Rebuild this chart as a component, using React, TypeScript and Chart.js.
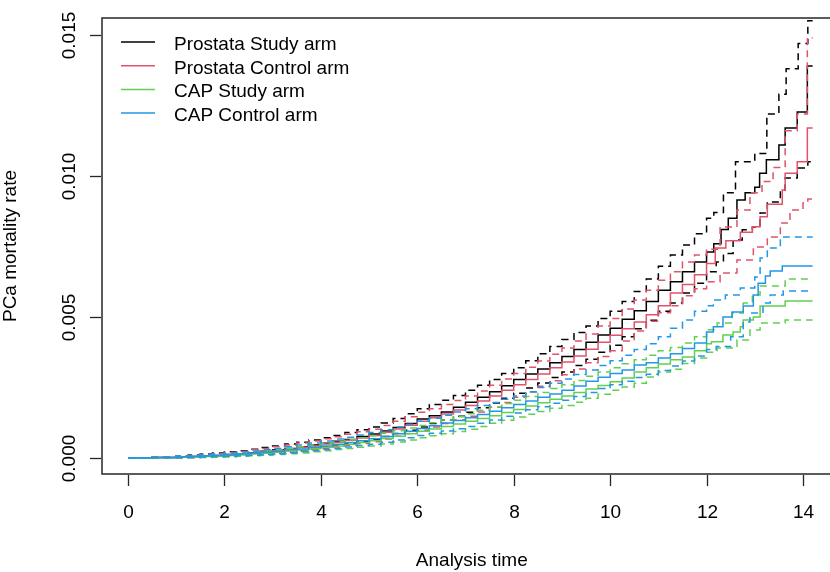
import React, { useEffect, useRef } from "react";
import { Chart, registerables } from "chart.js";

Chart.register(...registerables);

// ---------- axis ticks ----------
const xTicks = [0, 2, 4, 6, 8, 10, 12, 14];
const yTicks = [0, 0.005, 0.01, 0.015];
const yTickLabels = ["0.000", "0.005", "0.010", "0.015"];
const xTitle = "Analysis time";
const yTitle = "PCa mortality rate";

// ---------- legend ----------
const seriesNames = ["Prostata Study arm", "Prostata Control arm", "CAP Study arm", "CAP Control arm"];
const seriesColors = ["#000000", "#DF536B", "#61D04F", "#2297E6"];

// ---------- data (values in per mille, i.e. x 0.001) ----------
// common step times for t <= 12
const gridTimes = [0, 0.5, 1, 1.25, 1.5, 1.75, 2, 2.25, 2.5, 2.75, 3, 3.25, 3.5, 3.75, 4, 4.25, 4.5, 4.75, 5, 5.25, 5.5, 5.75, 6, 6.25, 6.5, 6.75, 7, 7.25, 7.5, 7.75, 8, 8.25, 8.5, 8.75, 9, 9.25, 9.5, 9.75, 10, 10.25, 10.5, 10.75, 11, 11.25, 11.5, 11.75, 12];

// Prostata Study arm
const psEst = [0, 0.02, 0.04, 0.05, 0.07, 0.09, 0.12, 0.15, 0.19, 0.24, 0.29, 0.34, 0.39, 0.46, 0.52, 0.59, 0.66, 0.76, 0.85, 0.96, 1.08, 1.22, 1.38, 1.5, 1.63, 1.8, 1.98, 2.15, 2.35, 2.56, 2.78, 2.98, 3.16, 3.38, 3.6, 3.85, 4.1, 4.36, 4.6, 4.92, 5.22, 5.55, 5.95, 6.25, 6.6, 6.95, 7.3];
const psEstLate = [[12.15, 7.6], [12.3, 8.1], [12.45, 8.5], [12.63, 9.15], [12.8, 9.4], [13.0, 9.6], [13.1, 10.1], [13.24, 10.57], [13.5, 11.1], [13.63, 11.7], [13.88, 12.27], [14.09, 13.9], [14.2, 13.9]];
const psHigh = [0, 0.04, 0.08, 0.11, 0.14, 0.18, 0.22, 0.26, 0.31, 0.37, 0.43, 0.5, 0.56, 0.64, 0.72, 0.8, 0.9, 1.0, 1.1, 1.24, 1.4, 1.57, 1.75, 1.9, 2.05, 2.22, 2.4, 2.58, 2.78, 3.0, 3.2, 3.45, 3.7, 3.95, 4.2, 4.45, 4.68, 4.95, 5.2, 5.55, 5.9, 6.35, 6.8, 7.2, 7.55, 7.95, 8.5];
const psHighLate = [[12.15, 8.7], [12.35, 9.4], [12.6, 10.5], [13.0, 10.8], [13.25, 12.2], [13.5, 12.9], [13.65, 13.8], [13.9, 14.7], [14.1, 15.5], [14.2, 15.5]];
const psLow = [0, 0, 0.01, 0.02, 0.03, 0.04, 0.06, 0.08, 0.1, 0.13, 0.16, 0.21, 0.26, 0.32, 0.38, 0.44, 0.51, 0.58, 0.66, 0.76, 0.87, 0.98, 1.1, 1.22, 1.35, 1.48, 1.62, 1.78, 1.95, 2.12, 2.3, 2.48, 2.66, 2.85, 3.05, 3.28, 3.5, 3.75, 4.0, 4.3, 4.58, 4.88, 5.2, 5.5, 5.85, 6.2, 6.6];
const psLowLate = [[12.2, 6.95], [12.35, 7.25], [12.55, 7.73], [12.74, 8.09], [12.95, 8.19], [13.11, 8.69], [13.26, 9.08], [13.53, 9.5], [13.63, 9.93], [13.88, 10.28], [14.1, 10.5], [14.2, 10.5]];

// Prostata Control arm
const pcEst = [0, 0.02, 0.04, 0.05, 0.07, 0.09, 0.12, 0.15, 0.18, 0.22, 0.27, 0.32, 0.37, 0.43, 0.5, 0.56, 0.63, 0.71, 0.8, 0.91, 1.03, 1.16, 1.3, 1.43, 1.56, 1.7, 1.86, 2.02, 2.2, 2.4, 2.6, 2.78, 2.98, 3.2, 3.4, 3.62, 3.86, 4.1, 4.35, 4.58, 4.82, 5.08, 5.4, 5.85, 6.15, 6.5, 6.9];
const pcEstLate = [[12.18, 7.45], [12.4, 7.7], [12.7, 8.0], [12.95, 8.2], [13.11, 8.55], [13.26, 9.0], [13.57, 9.5], [13.63, 10.1], [13.88, 10.5], [14.09, 11.7], [14.2, 11.7]];
const pcHigh = [0, 0.04, 0.08, 0.1, 0.13, 0.16, 0.2, 0.24, 0.29, 0.34, 0.4, 0.46, 0.53, 0.6, 0.68, 0.75, 0.84, 0.93, 1.02, 1.15, 1.3, 1.46, 1.62, 1.75, 1.9, 2.04, 2.2, 2.38, 2.58, 2.8, 3.0, 3.22, 3.44, 3.68, 3.9, 4.15, 4.4, 4.68, 4.95, 5.28, 5.6, 5.95, 6.3, 6.6, 6.95, 7.2, 7.4];
const pcHighLate = [[12.28, 8.19], [12.63, 8.79], [12.9, 9.4], [13.15, 9.8], [13.38, 10.3], [13.63, 11.6], [13.88, 12.2], [14.09, 14.9], [14.2, 14.9]];
const pcLow = [0, 0, 0.01, 0.02, 0.03, 0.04, 0.06, 0.08, 0.1, 0.12, 0.15, 0.19, 0.24, 0.29, 0.34, 0.39, 0.45, 0.51, 0.58, 0.67, 0.77, 0.87, 0.98, 1.1, 1.22, 1.35, 1.48, 1.63, 1.8, 1.97, 2.15, 2.34, 2.54, 2.74, 2.95, 3.16, 3.38, 3.6, 3.8, 4.15, 4.5, 4.85, 5.15, 5.4, 5.75, 6.0, 6.25];
const pcLowLate = [[12.28, 6.56], [12.63, 7.02], [12.97, 7.48], [13.26, 7.84], [13.53, 8.33], [13.73, 8.79], [14.0, 9.04], [14.1, 9.18], [14.2, 9.18]];

// CAP Study arm
const csEst = [0, 0.01, 0.03, 0.04, 0.05, 0.07, 0.09, 0.11, 0.14, 0.17, 0.2, 0.24, 0.28, 0.33, 0.38, 0.43, 0.49, 0.55, 0.61, 0.69, 0.77, 0.86, 0.95, 1.03, 1.12, 1.21, 1.3, 1.4, 1.5, 1.61, 1.72, 1.84, 1.96, 2.08, 2.2, 2.32, 2.45, 2.57, 2.7, 2.84, 3.05, 3.2, 3.33, 3.48, 3.58, 3.8, 4.05];
const csEstLate = [[12.1, 4.12], [12.34, 4.36], [12.55, 4.47], [12.7, 4.65], [12.76, 4.89], [12.97, 5.0], [13.11, 5.39], [13.63, 5.57], [14.2, 5.57]];
const csHigh = [0, 0.03, 0.06, 0.08, 0.1, 0.12, 0.15, 0.18, 0.22, 0.25, 0.29, 0.34, 0.4, 0.46, 0.52, 0.58, 0.65, 0.72, 0.79, 0.88, 0.97, 1.06, 1.15, 1.25, 1.35, 1.46, 1.57, 1.69, 1.81, 1.93, 2.05, 2.18, 2.32, 2.46, 2.6, 2.75, 2.9, 3.05, 3.2, 3.34, 3.48, 3.64, 3.8, 3.92, 4.08, 4.3, 4.55];
const csHighLate = [[12.22, 4.79], [12.53, 5.14], [12.76, 5.5], [12.95, 5.78], [13.11, 6.1], [13.63, 6.35], [14.2, 6.35]];
const csLow = [0, 0, 0.01, 0.01, 0.02, 0.03, 0.04, 0.06, 0.08, 0.1, 0.12, 0.15, 0.18, 0.22, 0.26, 0.3, 0.34, 0.38, 0.43, 0.5, 0.57, 0.64, 0.72, 0.79, 0.86, 0.94, 1.02, 1.12, 1.23, 1.34, 1.45, 1.55, 1.65, 1.76, 1.86, 1.98, 2.12, 2.26, 2.4, 2.52, 2.65, 2.87, 3.05, 3.15, 3.35, 3.55, 3.75];
const csLowLate = [[12.22, 3.9], [12.63, 4.18], [12.9, 4.54], [13.11, 4.79], [13.63, 4.89], [14.2, 4.89]];

// CAP Control arm
const ccEst = [0, 0.02, 0.04, 0.05, 0.07, 0.09, 0.11, 0.14, 0.17, 0.2, 0.23, 0.28, 0.32, 0.38, 0.43, 0.49, 0.55, 0.61, 0.68, 0.76, 0.86, 0.95, 1.05, 1.14, 1.24, 1.33, 1.43, 1.54, 1.66, 1.78, 1.9, 2.02, 2.15, 2.27, 2.4, 2.55, 2.72, 2.86, 3.0, 3.12, 3.3, 3.38, 3.55, 3.7, 3.88, 4.08, 4.47];
const ccEstLate = [[12.14, 4.65], [12.34, 5.0], [12.53, 5.18], [12.76, 5.39], [12.97, 5.78], [13.07, 6.2], [13.22, 6.45], [13.32, 6.63], [13.57, 6.81], [14.2, 6.81]];
const ccHigh = [0, 0.03, 0.07, 0.09, 0.12, 0.14, 0.17, 0.21, 0.25, 0.29, 0.34, 0.4, 0.46, 0.53, 0.6, 0.67, 0.74, 0.82, 0.9, 1.0, 1.1, 1.2, 1.3, 1.41, 1.52, 1.63, 1.75, 1.86, 1.97, 2.08, 2.2, 2.35, 2.5, 2.65, 2.8, 2.96, 3.12, 3.28, 3.45, 3.64, 3.85, 4.05, 4.3, 4.6, 4.89, 5.2, 5.4];
const ccHighLate = [[12.14, 5.6], [12.39, 5.78], [12.7, 6.03], [13.0, 6.42], [13.11, 7.09], [13.26, 7.45], [13.53, 7.73], [13.57, 7.84], [14.2, 7.84]];
const ccLow = [0, 0.01, 0.02, 0.03, 0.04, 0.05, 0.06, 0.08, 0.1, 0.12, 0.14, 0.18, 0.22, 0.26, 0.3, 0.34, 0.39, 0.44, 0.49, 0.56, 0.64, 0.72, 0.8, 0.88, 0.96, 1.04, 1.12, 1.23, 1.35, 1.48, 1.6, 1.71, 1.82, 1.94, 2.05, 2.18, 2.32, 2.46, 2.6, 2.72, 2.85, 2.97, 3.1, 3.26, 3.44, 3.62, 3.85];
const ccLowLate = [[12.2, 3.95], [12.5, 4.3], [12.76, 4.82], [12.9, 5.14], [13.17, 5.5], [13.32, 5.78], [13.59, 5.92], [14.2, 5.92]];

const PER_MILLE = 0.001;

const groups = [
  { est: [psEst, psEstLate], low: [psLow, psLowLate], high: [psHigh, psHighLate] },
  { est: [pcEst, pcEstLate], low: [pcLow, pcLowLate], high: [pcHigh, pcHighLate] },
  { est: [csEst, csEstLate], low: [csLow, csLowLate], high: [csHigh, csHighLate] },
  { est: [ccEst, ccEstLate], low: [ccLow, ccLowLate], high: [ccHigh, ccHighLate] },
];

const FONT = '"Liberation Sans", Arial, sans-serif';

const rAxesPlugin = {
  id: "rAxes",
  afterDraw(chart: any) {
    const ctx = chart.ctx as CanvasRenderingContext2D;
    const area = chart.chartArea;
    const xs = chart.scales.x;
    const ys = chart.scales.y;
    ctx.save();
    ctx.strokeStyle = "#262626";
    ctx.lineWidth = 1.5;
    ctx.beginPath();
    ctx.moveTo(area.right + 20, area.top);
    ctx.lineTo(area.left, area.top);
    ctx.lineTo(area.left, area.bottom);
    ctx.lineTo(area.right + 20, area.bottom);
    ctx.stroke();

    ctx.fillStyle = "#000";
    ctx.font = `19px ${FONT}`;
    ctx.lineWidth = 1.3;
    ctx.textAlign = "center";
    ctx.textBaseline = "alphabetic";
    xTicks.forEach((t) => {
      const px = Math.round(xs.getPixelForValue(t)) + 0.5;
      ctx.beginPath();
      ctx.moveTo(px, area.bottom + 1);
      ctx.lineTo(px, area.bottom + 12);
      ctx.stroke();
      ctx.fillText(String(t), px, 518);
    });
    yTicks.forEach((v, i) => {
      const py = Math.round(ys.getPixelForValue(v)) + 0.5;
      ctx.beginPath();
      ctx.moveTo(area.left - 1, py);
      ctx.lineTo(area.left - 12, py);
      ctx.stroke();
      ctx.save();
      ctx.translate(75, py);
      ctx.rotate(-Math.PI / 2);
      ctx.fillText(yTickLabels[i], 0, 0);
      ctx.restore();
    });
    ctx.fillText(xTitle, (xs.getPixelForValue(xs.min) + xs.getPixelForValue(14.8)) / 2, 566);
    ctx.save();
    ctx.translate(16, (area.top + area.bottom) / 2);
    ctx.rotate(-Math.PI / 2);
    ctx.fillText(yTitle, 0, 0);
    ctx.restore();

    ctx.textAlign = "left";
    seriesNames.forEach((name, i) => {
      const ly = 42 + i * 23.7;
      ctx.strokeStyle = seriesColors[i];
      ctx.lineWidth = 1.5;
      ctx.beginPath();
      ctx.moveTo(121, ly);
      ctx.lineTo(155, ly);
      ctx.stroke();
      ctx.fillStyle = "#000";
      ctx.fillText(name, 174, ly + 8);
    });
    ctx.restore();
  },
};

export default function App() {
  const canvasRef = useRef<HTMLCanvasElement | null>(null);

  useEffect(() => {
    if (!canvasRef.current) return;
    const toPoints = ([vals, late]: any[]) => [
      ...gridTimes.map((t, i) => ({ x: t, y: vals[i] * PER_MILLE })),
      ...late.map(([t, v]: number[]) => ({ x: t, y: v * PER_MILLE })),
    ];
    const datasets: any[] = [];
    groups.forEach((g, gi) => {
      const color = seriesColors[gi];
      const mk = (src: any[], dashed: boolean, k: number) => ({
        label: seriesNames[gi] + (dashed ? " CI" : ""),
        data: toPoints(src),
        borderColor: color,
        borderWidth: 1.5,
        borderDash: dashed ? [7, 5] : [],
        stepped: "before",
        pointRadius: 0,
        fill: false,
        order: 100 - (gi * 3 + k),
      });
      datasets.push(mk(g.est, false, 0));
      datasets.push(mk(g.low, true, 1));
      datasets.push(mk(g.high, true, 2));
    });

    const chart = new Chart(canvasRef.current, {
      type: "line",
      data: { datasets },
      options: {
        animation: false,
        responsive: false,
        maintainAspectRatio: false,
        layout: { padding: { left: 102, top: 18, right: 0, bottom: 98 } },
        scales: {
          x: { type: "linear", min: -0.539, max: 14.56, display: false },
          y: { type: "linear", min: -0.000567, max: 0.0156, display: false },
        },
        plugins: { legend: { display: false }, tooltip: { enabled: false } },
        elements: { point: { radius: 0 }, line: { tension: 0 } },
      },
      plugins: [rAxesPlugin],
    });
    return () => chart.destroy();
  }, []);

  return (
    <div style={{ position: "absolute", left: 0, top: 0, width: 830, height: 572, overflow: "hidden", background: "#fff" }}>
      <canvas ref={canvasRef} width={830} height={572} style={{ width: 830, height: 572 }} />
    </div>
  );
}
